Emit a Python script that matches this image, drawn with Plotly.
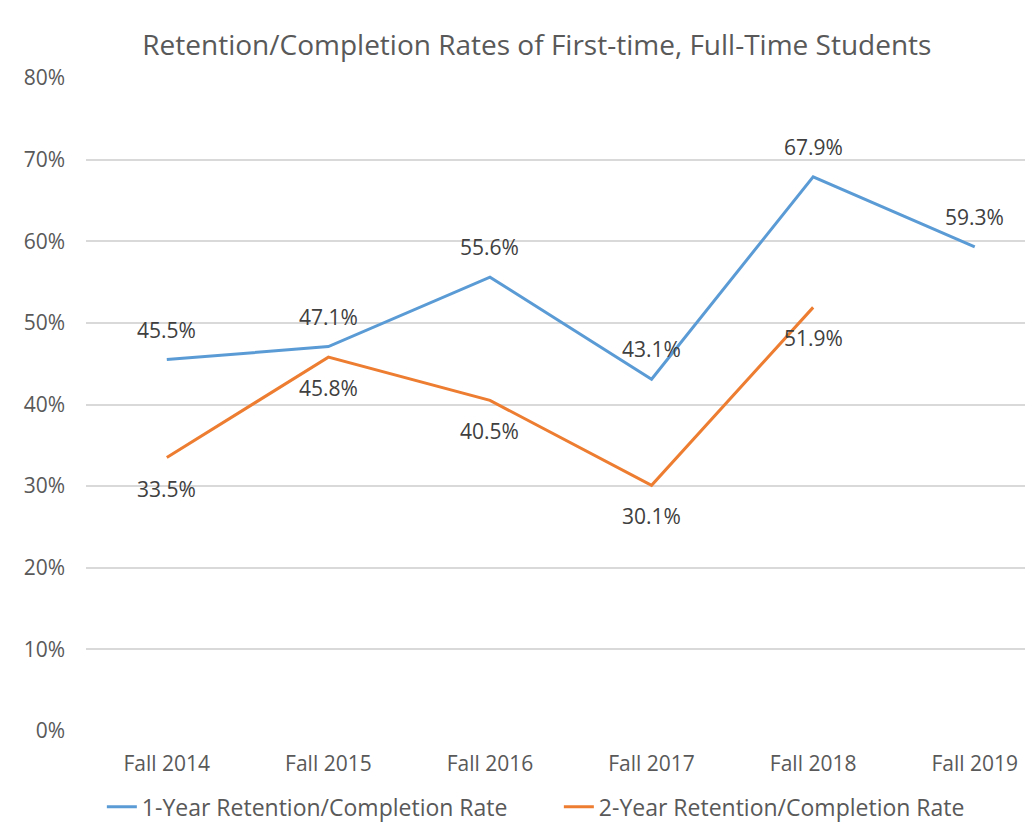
import plotly.graph_objects as go

categories = ["Fall 2014", "Fall 2015", "Fall 2016", "Fall 2017", "Fall 2018", "Fall 2019"]
one_year = [0.455, 0.471, 0.556, 0.431, 0.679, 0.593]
two_year = [0.335, 0.458, 0.405, 0.301, 0.519, None]
y_ticks = [0, 0.1, 0.2, 0.3, 0.4, 0.5, 0.6, 0.7, 0.8]

FONT = "Open Sans, sans-serif"
LABEL_COLOR = "#404040"

fig = go.Figure()
fig.add_trace(go.Scatter(
    x=categories, y=one_year, mode="lines",
    name="1-Year Retention/Completion Rate",
    line=dict(color="#5B9BD5", width=3),
))
fig.add_trace(go.Scatter(
    x=categories, y=two_year, mode="lines",
    name="2-Year Retention/Completion Rate",
    line=dict(color="#ED7D31", width=3),
))

annotations = []
for c, v in zip(categories, one_year):
    annotations.append(dict(x=c, y=v, xref="x", yref="y", text=f"{v*100:.1f}%",
                            showarrow=False, yshift=30,
                            font=dict(family=FONT, size=21, color=LABEL_COLOR)))
for c, v in zip(categories, two_year):
    if v is None:
        continue
    annotations.append(dict(x=c, y=v, xref="x", yref="y", text=f"{v*100:.1f}%",
                            showarrow=False, yshift=-31,
                            font=dict(family=FONT, size=21, color=LABEL_COLOR)))

fig.update_layout(
    width=1033, height=822,
    margin=dict(l=78, r=0, t=70, b=99),
    paper_bgcolor="white", plot_bgcolor="white",
    font=dict(family=FONT, color="#595959", size=21),
    title=dict(text="Retention/Completion Rates of First-time, Full-Time Students",
               x=0.512, xanchor="center", y=0.955, yanchor="middle",
               font=dict(family=FONT, size=28, color="#595959")),
    showlegend=True,
    legend=dict(orientation="h", x=0.0166, xanchor="left", y=-0.116, yanchor="middle",
                entrywidth=412, entrywidthmode="pixels",
                font=dict(family=FONT, size=23, color="#595959")),
    annotations=annotations,
    xaxis=dict(range=[-0.5, 5.41], showgrid=False, showline=False, ticks="",
               ticklabelstandoff=18,
               tickfont=dict(family=FONT, size=21, color="#595959")),
    yaxis=dict(range=[0, 0.8], tickvals=y_ticks, tickformat=".0%",
               showgrid=True, gridcolor="#D9D9D9", gridwidth=1.5,
               zeroline=False, showline=False, ticks="", ticklabelstandoff=20,
               tickfont=dict(family=FONT, size=21, color="#595959")),
)

fig.write_html("out.html")
